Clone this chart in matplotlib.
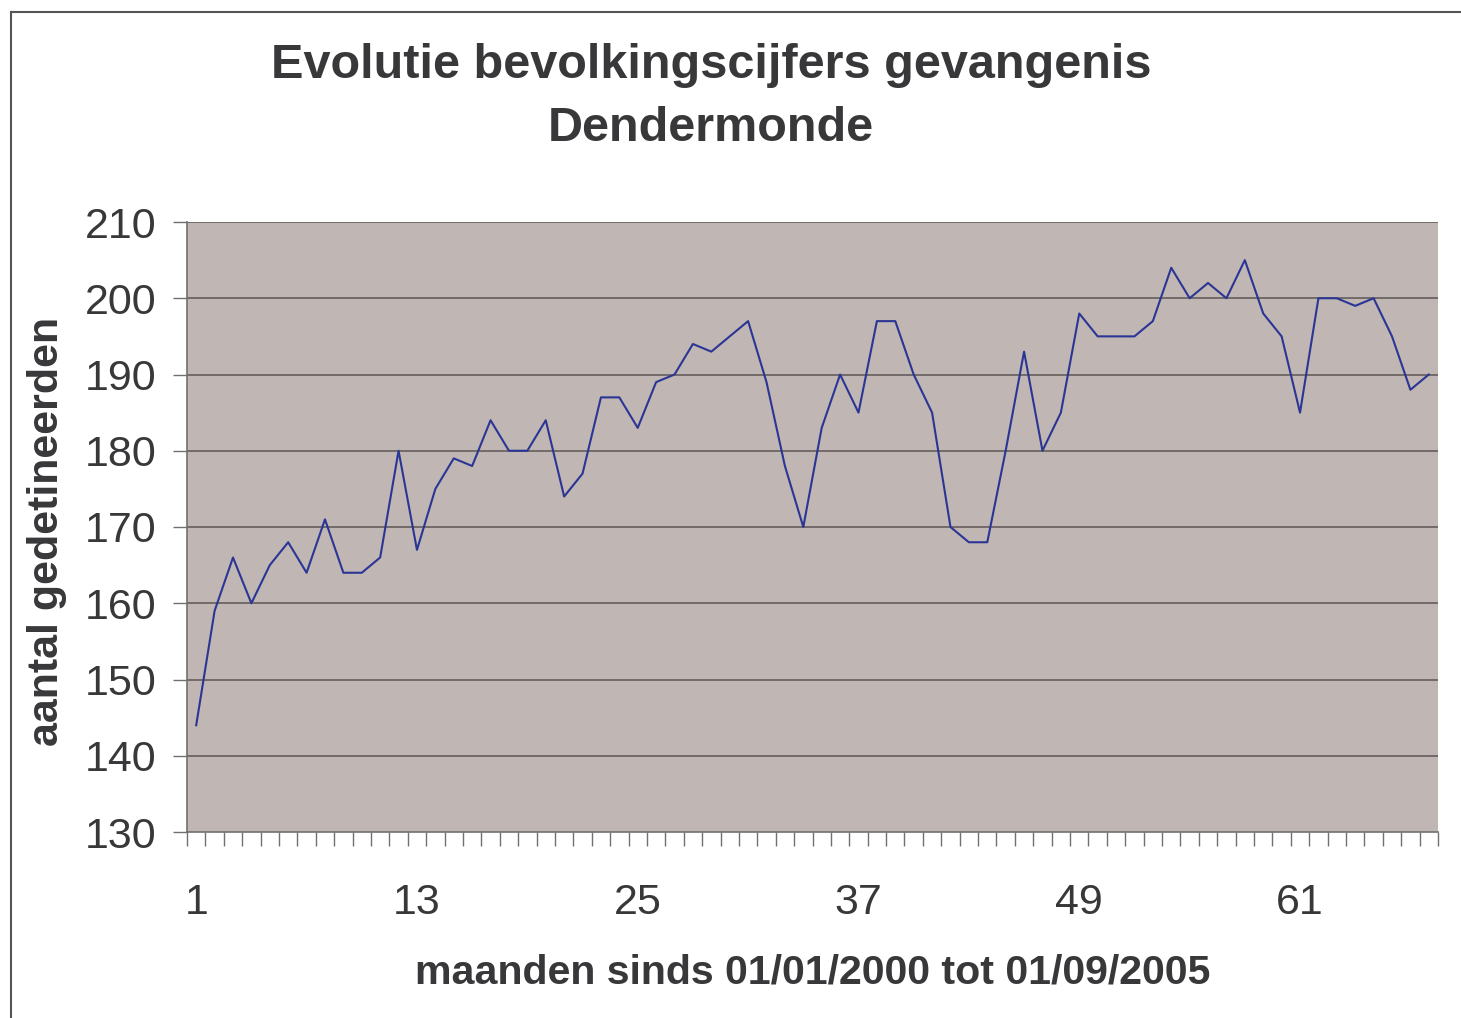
import matplotlib
matplotlib.use("Agg")
import matplotlib.pyplot as plt
from matplotlib.lines import Line2D

# monthly prison population, Dendermonde (months since 01/01/2000)
gedetineerden = [
    144, 159, 166, 160, 165, 168, 164, 171, 164, 164, 166, 180,
    167, 175, 179, 178, 184, 180, 180, 184, 174, 177, 187, 187,
    183, 189, 190, 194, 193, 195, 197, 189, 178, 170, 183, 190,
    185, 197, 197, 190, 185, 170, 168, 168, 180, 193, 180, 185,
    198, 195, 195, 195, 197, 204, 200, 202, 200, 205, 198, 195,
    185, 200, 200, 199, 200, 195, 188, 190,
]
maanden = list(range(1, len(gedetineerden) + 1))
label_maanden = [1, 13, 25, 37, 49, 61]
y_ticks = [130, 140, 150, 160, 170, 180, 190, 200, 210]

TEXT = "#38383a"
FONT = ["Liberation Sans", "DejaVu Sans"]
plt.rcParams["font.family"] = FONT

W, H = 1461, 1018
fig = plt.figure(figsize=(W / 100, H / 100), dpi=100)
ax = fig.add_axes([187 / W, 1 - 832 / H, (1438 - 187) / W, (832 - 222) / H])
ax.set_facecolor("#c0b6b3")

ax.plot(maanden, gedetineerden, color="#2b3595", lw=1.5, zorder=3)

ax.set_xlim(0.5, len(gedetineerden) + 0.5)
ax.set_ylim(130, 210)
ax.set_yticks(y_ticks)
for v in y_ticks[1:]:
    ax.axhline(v, color="#5e5654", lw=1.1, zorder=1)

# category axis: ticks between months, labels on selected months
ax.set_xticks([m + 0.5 for m in range(0, len(gedetineerden) + 1)])
ax.set_xticklabels([])
ax.set_xticks(label_maanden, minor=True)
ax.set_xticklabels([str(m) for m in label_maanden], minor=True)
ax.tick_params(axis="x", which="major", direction="out", length=10, width=1,
               color="#707070")
ax.tick_params(axis="x", which="minor", length=0, pad=37, labelsize=31,
               labelcolor=TEXT)
ax.tick_params(axis="y", direction="out", length=10, width=1, color="#707070",
               labelsize=31, labelcolor=TEXT, pad=12)

for s in ["top", "right"]:
    ax.spines[s].set_visible(False)
for s in ["left", "bottom"]:
    ax.spines[s].set_color("#707070")
    ax.spines[s].set_linewidth(1.2)

ax.set_xlabel("maanden sinds 01/01/2000 tot 01/09/2005", fontsize=29.6,
              fontweight="bold", color=TEXT)
ax.xaxis.set_label_coords(0.5, -(953 - 832) / 610)
ax.set_ylabel("aantal gedetineerden", fontsize=31, fontweight="bold",
              color=TEXT)
ax.yaxis.set_label_coords(-(187 - 67) / 1251, (832 - 531) / 610)

fig.text(711 / W, 1 - 78 / H, "Evolutie bevolkingscijfers gevangenis",
         ha="center", va="baseline", fontsize=35, fontweight="bold", color=TEXT)
fig.text(711 / W, 1 - 141 / H, "Dendermonde",
         ha="center", va="baseline", fontsize=35, fontweight="bold", color=TEXT)

# frame of the original chart (top and left edge)
fig.add_artist(Line2D([10.5 / W, 1], [1 - 11.5 / H, 1 - 11.5 / H],
                      color="#555555", lw=1.5, transform=fig.transFigure))
fig.add_artist(Line2D([10.5 / W, 10.5 / W], [0, 1 - 11.5 / H],
                      color="#555555", lw=1.5, transform=fig.transFigure))

fig.savefig("out.png", dpi=100)
